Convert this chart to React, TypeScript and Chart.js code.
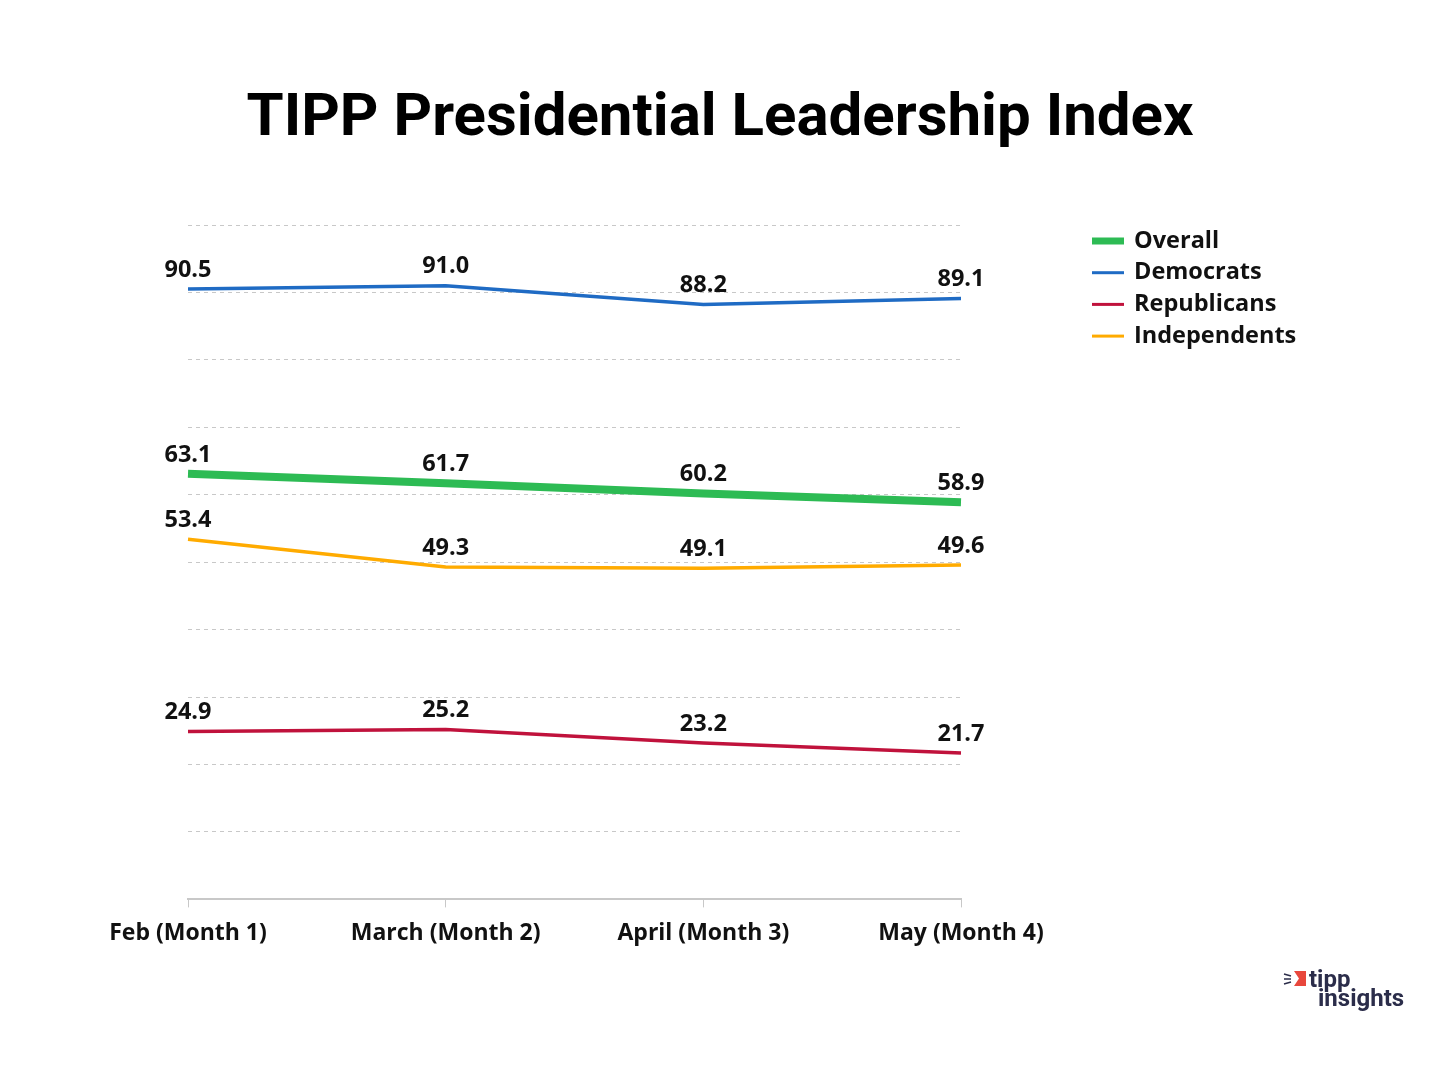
import React, { useEffect, useRef } from "react";
import { Chart, registerables } from "chart.js";

Chart.register(...registerables);

const categories = ["Feb (Month 1)", "March (Month 2)", "April (Month 3)", "May (Month 4)"];
const seriesNames = ["Overall", "Democrats", "Republicans", "Independents"];
const overall = [63.1, 61.7, 60.2, 58.9];
const democrats = [90.5, 91.0, 88.2, 89.1];
const republicans = [24.9, 25.2, 23.2, 21.7];
const independents = [53.4, 49.3, 49.1, 49.6];
const seriesColors = ["#2dbb54", "#1f6bc4", "#c0123c", "#ffab00"];
const seriesWidths = [8, 3.5, 3.5, 3.5];
const titleText = "TIPP Presidential Leadership Index";

const TITLE_FONT = "Roboto, 'Noto Sans', sans-serif";
const FONT = "'Open Sans', Roboto, sans-serif";

const overlayPlugin = {
  id: "overlay",
  afterDatasetsDraw(chart: any) {
    const ctx = chart.ctx;
    ctx.save();
    // data labels
    ctx.fillStyle = "#111";
    ctx.font = `bold 23.5px ${FONT}`;
    ctx.textAlign = "center";
    ctx.textBaseline = "middle";
    chart.data.datasets.forEach((ds: any, i: number) => {
      const meta = chart.getDatasetMeta(i);
      meta.data.forEach((pt: any, j: number) => {
        ctx.fillText(ds.data[j].toFixed(1), pt.x, pt.y - 19);
      });
    });
    // title
    ctx.font = `bold 60px ${TITLE_FONT}`;
    ctx.fillStyle = "#000";
    ctx.fillText(titleText, 720, 120);
    // legend
    ctx.textAlign = "left";
    ctx.font = `bold 23.5px ${FONT}`;
    chart.data.datasets.forEach((ds: any, i: number) => {
      const y = 241 + i * 31.7;
      ctx.strokeStyle = ds.borderColor;
      ctx.lineWidth = i === 0 ? 7 : 3;
      ctx.beginPath();
      ctx.moveTo(1092, y);
      ctx.lineTo(1124, y);
      ctx.stroke();
      ctx.fillStyle = "#111";
      ctx.fillText(ds.label, 1134, y);
    });
    // logo
    ctx.fillStyle = "#e8473c";
    ctx.beginPath();
    ctx.moveTo(1294, 971);
    ctx.lineTo(1306, 971);
    ctx.lineTo(1306, 986);
    ctx.lineTo(1294, 986);
    ctx.lineTo(1299, 978.5);
    ctx.closePath();
    ctx.fill();
    ctx.strokeStyle = "#2b2d4a";
    ctx.lineWidth = 1.5;
    ctx.beginPath();
    ctx.moveTo(1284, 974); ctx.lineTo(1291, 976);
    ctx.moveTo(1284, 979); ctx.lineTo(1291, 979);
    ctx.moveTo(1284, 984); ctx.lineTo(1291, 982);
    ctx.stroke();
    ctx.fillStyle = "#2b2d4a";
    ctx.font = `bold 24px ${TITLE_FONT}`;
    ctx.textBaseline = "alphabetic";
    ctx.fillText("tipp", 1309, 987);
    ctx.fillText("insights", 1318, 1006);
    ctx.restore();
  },
};

export default function App() {
  const ref = useRef<HTMLCanvasElement>(null);
  useEffect(() => {
    document.body.style.margin = "0";
    const values = [overall, democrats, republicans, independents];
    const chart = new Chart(ref.current!, {
      type: "line",
      data: {
        labels: categories,
        datasets: seriesNames.map((name, i) => ({
          label: name,
          data: values[i],
          borderColor: seriesColors[i],
          backgroundColor: seriesColors[i],
          borderWidth: seriesWidths[i],
          pointRadius: 0,
          tension: 0,
          fill: false,
        })),
      },
      options: {
        animation: false,
        responsive: false,
        devicePixelRatio: 1,
        layout: { padding: { left: 188, right: 479, top: 225, bottom: 121 } },
        plugins: { legend: { display: false }, title: { display: false }, tooltip: { enabled: false } },
        scales: {
          x: {
            offset: false,
            grid: { drawOnChartArea: false, drawTicks: true, tickLength: 8, color: "#c8c8c8" },
            border: { display: true, color: "#c8c8c8", width: 2 },
            ticks: { color: "#111", font: { family: FONT, size: 23, weight: "bold" }, padding: 12, maxRotation: 0 },
          },
          y: {
            min: 0,
            max: 100,
            ticks: { display: false, stepSize: 10 },
            grid: { color: "#c8c8c8", lineWidth: 1, drawTicks: false },
            border: { display: false, dash: [4, 4] },
          },
        },
      },
      plugins: [overlayPlugin],
    });
    return () => chart.destroy();
  }, []);
  return (
    <div style={{ position: "absolute", left: 0, top: 0, width: 1440, height: 1080, background: "#fff" }}>
      <canvas ref={ref} width={1440} height={1080} style={{ width: 1440, height: 1080 }} />
    </div>
  );
}
